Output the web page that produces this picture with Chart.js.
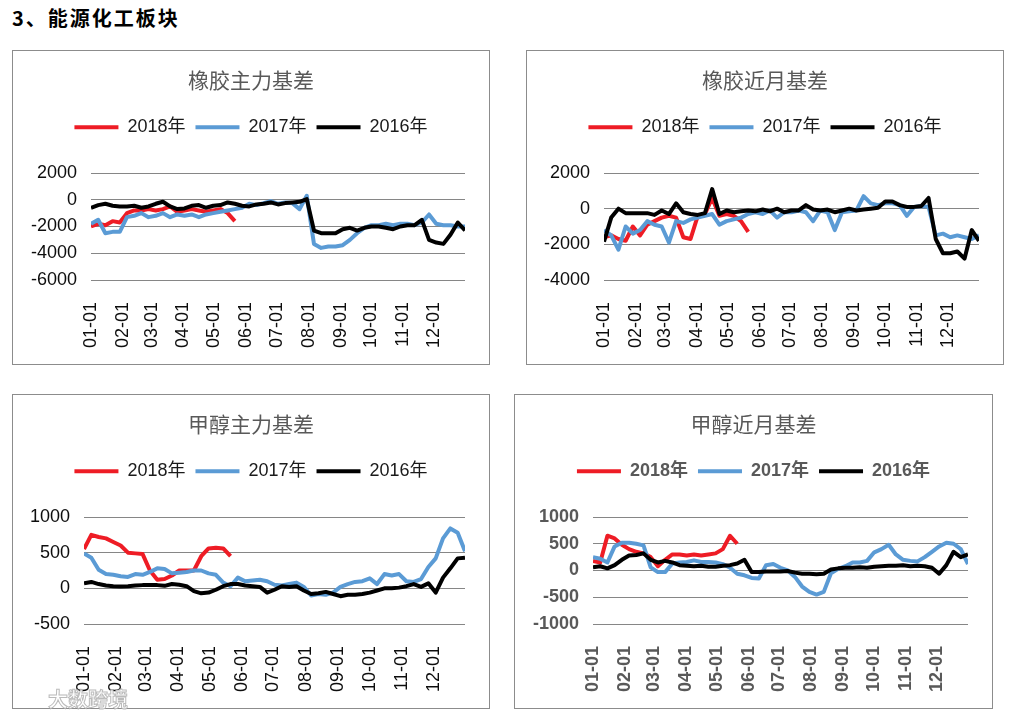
<!DOCTYPE html>
<html>
<head>
<meta charset="utf-8">
<script src="https://cdn.jsdelivr.net/npm/chart.js@4.4.1/dist/chart.umd.min.js"></script>
<style>
  html,body{margin:0;padding:0;background:#fff;}
  body{width:1019px;height:718px;position:relative;overflow:hidden;font-family:"Liberation Sans","Noto Sans CJK SC",sans-serif;}
  #pageTitle{position:absolute;left:12px;top:3px;font-family:"Noto Sans CJK SC";font-weight:bold;font-size:20px;letter-spacing:2px;color:#000;white-space:nowrap;}
  .panel{position:absolute;border:1px solid #8c8c8c;box-sizing:border-box;background:#fff;}
  .panel canvas{position:absolute;left:0;top:0;}
  #wm{position:absolute;left:48px;top:684px;font-family:"Noto Sans CJK SC";font-weight:bold;font-size:20px;color:rgba(255,255,255,0.85);-webkit-text-stroke:1px rgba(170,170,170,0.8);white-space:nowrap;}
</style>
</head>
<body>
<div id="pageTitle">3、能源化工板块</div>
<div class="panel" style="left:12px;top:50px;width:478px;height:315px;"><canvas id="c1" width="476" height="313"></canvas></div>
<div class="panel" style="left:526px;top:50px;width:478px;height:315px;"><canvas id="c2" width="476" height="313"></canvas></div>
<div class="panel" style="left:12px;top:394px;width:478px;height:315px;"><canvas id="c3" width="476" height="313"></canvas></div>
<div class="panel" style="left:514px;top:394px;width:479px;height:315px;"><canvas id="c4" width="477" height="313"></canvas></div>
<div id="wm">大数跨境</div>
<script>
// ---- shared axis data ----
const DAYS = [0,7,14,21,28,35,42,49,56,63,70,77,84,91,98,105,112,119,126,133,140,147,154,161,168,175,182,189,196,203,210,217,224,231,238,245,252,259,266,273,280,287,294,301,308,315,322,329,336,343,350,357,364];
const MONTH_TICK_DAYS = [0,31,59,90,120,151,181,212,243,273,304,334];
const MONTH_LABELS = ['01-01','02-01','03-01','04-01','05-01','06-01','07-01','08-01','09-01','10-01','11-01','12-01'];
const SERIES_NAMES = ['2018年','2017年','2016年'];
const TITLES = ['橡胶主力基差','橡胶近月基差','甲醇主力基差','甲醇近月基差'];

// ---- 橡胶主力基差 ----
const RUBBER_MAIN_2018 = [-2000,-1800,-1900,-1600,-1700,-1000,-800,-800,-700,-800,-700,-500,-900,-800,-700,-800,-900,-800,-700,-1000,-1600];
const RUBBER_MAIN_2017 = [-1800,-1500,-2500,-2400,-2400,-1300,-1200,-1000,-1300,-1200,
  -1000,-1300,-1100,-1200,-1100,-1300,-1100,-1000,-900,-800,
  -700,-600,-300,-400,-250,-100,-300,-200,-250,-700,
  300,-3300,-3600,-3500,-3500,-3400,-3000,-2500,-2100,-1900,
  -1900,-1800,-1900,-1800,-1800,-1900,-1700,-1100,-1800,-1900,
  -1900,-2000,-2000];
const RUBBER_MAIN_2016 = [-600,-400,-300,-450,-500,-500,-450,-600,-500,-300,
  -150,-500,-700,-650,-450,-400,-600,-450,-400,-200,
  -300,-450,-500,-350,-300,-200,-350,-250,-200,-150,
  50,-2300,-2500,-2500,-2500,-2200,-2100,-2300,-2100,-2000,
  -2000,-2100,-2200,-2000,-1900,-1900,-1500,-3000,-3200,-3300,
  -2600,-1700,-2300];

// ---- 橡胶近月基差 ----
const RUBBER_NEAR_2018 = [-1600,-1500,-1700,-1800,-1000,-1500,-900,-700,-500,-400,-500,-1600,-1700,-400,-300,600,-400,-300,-400,-700,-1300];
const RUBBER_NEAR_2017 = [-1200,-1500,-2300,-1000,-1400,-1200,-700,-900,-1000,-1900,
  -700,-800,-600,-500,-400,-300,-900,-700,-600,-500,
  -300,-200,-300,-100,-500,-200,-200,-100,-200,-700,
  -100,-200,-1200,-200,-150,-100,700,300,200,300,
  300,200,-400,100,150,100,-1500,-1400,-1600,-1500,
  -1600,-1700,-1500];
const RUBBER_NEAR_2016 = [-1850,-500,0,-250,-250,-250,-250,-350,-100,-300,
  300,-200,-300,-350,-250,1100,-300,-100,-200,-150,
  -100,-150,-50,-150,0,-200,-100,-100,200,-50,
  -100,-50,-200,-100,0,-100,-50,0,50,400,
  400,200,100,100,150,600,-1700,-2500,-2500,-2400,
  -2800,-1200,-1800];

// ---- 甲醇主力基差 ----
const METH_MAIN_2018 = [550,750,720,700,650,600,500,490,480,250,120,130,180,250,250,250,450,560,570,560,450];
const METH_MAIN_2017 = [490,430,260,200,190,170,160,200,190,230,
  280,270,210,220,230,250,250,210,190,80,
  30,150,100,110,120,100,50,40,60,80,
  20,-100,-80,-90,-60,20,60,90,100,140,
  60,200,180,200,100,90,130,300,420,700,
  840,780,520];
const METH_MAIN_2016 = [70,90,60,40,30,25,30,40,45,45,
  45,35,60,50,30,-40,-70,-60,-20,30,
  60,60,40,30,20,-60,-20,30,20,30,
  -30,-80,-70,-50,-80,-110,-90,-90,-80,-60,
  -30,0,0,10,30,60,20,70,-60,150,
  280,420,430];

// ---- 甲醇近月基差 ----
const METH_NEAR_2018 = [180,150,650,600,480,400,350,320,250,80,200,300,300,280,300,280,300,320,400,650,500];
const METH_NEAR_2017 = [250,220,150,450,520,520,500,470,60,-30,
  -30,130,150,160,190,160,160,150,120,50,
  -60,-90,-140,-150,100,120,50,0,-120,-300,
  -400,-450,-400,-50,30,80,150,150,180,340,
  400,480,300,200,180,170,250,350,450,520,
  500,400,120];
const METH_NEAR_2016 = [60,80,40,100,200,280,290,320,200,150,
  180,150,100,90,80,90,70,70,90,100,
  130,200,-30,-30,-20,-20,-20,-10,-40,-60,
  -60,-70,-60,20,40,50,50,60,50,70,
  80,90,90,100,80,90,80,50,-60,100,
  350,250,300];

// ---- drawing ----
Chart.defaults.font.family = '"Liberation Sans","Noto Sans CJK SC",sans-serif';
const COLORS = ['#EE1C25', '#5B9BD5', '#000000'];

function toPoints(values) {
  return values.map((v, i) => ({x: DAYS[i], y: v}));
}

function legendHeightPlugin(h) {
  return {
    id: 'legendHeight',
    afterInit(chart) {
      const lg = chart.legend;
      if (!lg) return;
      const fit = lg.fit;
      lg.fit = function() { fit.call(lg); lg.height = h; };
    }
  };
}

function makeChart(id, title, series, yMin, yMax, yStep, leftWidth, rightWidth, bold) {
  const textColor = bold ? '#595959' : '#0d0d0d';
  const legendColor = bold ? '#595959' : '#1a1a1a';
  const weight = bold ? 'bold' : 'normal';
  const titleBox = 16 + 21 * 1.2 + 16;
  return new Chart(document.getElementById(id), {
    type: 'line',
    data: {
      datasets: series.map((vals, i) => ({
        label: SERIES_NAMES[i],
        data: toPoints(vals),
        borderColor: COLORS[i],
        backgroundColor: COLORS[i],
        pointBorderColor: COLORS[i],
        pointBorderWidth: 4,
        borderWidth: 4,
        pointRadius: 0,
        tension: 0,
        borderJoinStyle: 'round',
        fill: false,
        order: 3 - i
      }))
    },
    options: {
      responsive: false,
      animation: false,
      events: [],
      layout: {padding: 0},
      plugins: {
        title: {
          display: true, text: title, color: '#595959',
          font: {family: '"Noto Sans CJK SC"', size: 21, weight: 'normal'},
          padding: {top: 16, bottom: 16}
        },
        legend: {
          display: true,
          labels: {
            usePointStyle: true, pointStyle: 'line', pointStyleWidth: 44,
            padding: 10, color: legendColor,
            font: {size: 18, weight: weight},
            sort: (a, b) => a.datasetIndex - b.datasetIndex
          }
        },
        tooltip: {enabled: false}
      },
      scales: {
        x: {
          type: 'linear', min: 0, max: 364,
          grid: {display: false},
          border: {display: false},
          afterBuildTicks: (s) => { s.ticks = MONTH_TICK_DAYS.map(v => ({value: v})); },
          afterFit: (s) => { s.height = 84; },
          ticks: {
            autoSkip: false, minRotation: 90, maxRotation: 90, padding: 14,
            color: textColor, font: {size: 18, weight: weight},
            callback: (v, i) => MONTH_LABELS[i]
          }
        },
        y: {
          min: yMin, max: yMax,
          grid: {color: '#868686', lineWidth: 1, drawTicks: false},
          border: {display: false},
          afterFit: (s) => { s.width = leftWidth; },
          ticks: {
            stepSize: yStep, padding: 14, color: textColor, font: {size: 18, weight: weight},
            callback: (v) => String(v)
          }
        },
        yRight: {
          type: 'linear', position: 'right', min: yMin, max: yMax,
          grid: {display: false, drawTicks: false},
          border: {display: false},
          ticks: {display: false},
          afterFit: (s) => { s.width = rightWidth; }
        }
      }
    },
    plugins: [legendHeightPlugin(122 - titleBox)]
  });
}

makeChart('c1', TITLES[0], [RUBBER_MAIN_2018, RUBBER_MAIN_2017, RUBBER_MAIN_2016], -6000, 2000, 2000, 78, 24, false);
makeChart('c2', TITLES[1], [RUBBER_NEAR_2018, RUBBER_NEAR_2017, RUBBER_NEAR_2016], -4000, 2000, 2000, 77, 24, false);
makeChart('c3', TITLES[2], [METH_MAIN_2018, METH_MAIN_2017, METH_MAIN_2016], -500, 1000, 500, 71, 24, false);
makeChart('c4', TITLES[3], [METH_NEAR_2018, METH_NEAR_2017, METH_NEAR_2016], -1000, 1000, 500, 78, 24, true);
</script>
</body>
</html>
